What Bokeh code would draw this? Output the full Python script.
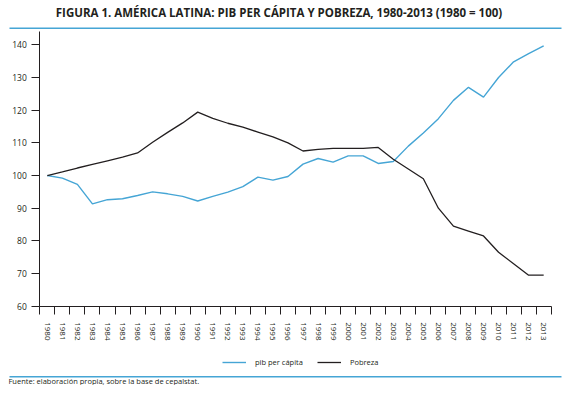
from bokeh.plotting import figure
from bokeh.models import (Range1d, FixedTicker, Label, BoxAnnotation, Legend, LegendItem)
from bokeh.embed import file_html
from bokeh.resources import INLINE

years = list(range(1980, 2014))
pib_per_capita = [100, 99.2, 97.3, 91.3, 92.6, 92.9, 93.9, 95.0, 94.4, 93.6,
                  92.2, 93.6, 94.9, 96.6, 99.5, 98.6, 99.7, 103.5, 105.2, 104.1,
                  106.0, 106.0, 103.7, 104.3, 109.0, 113.0, 117.4, 123.0, 127.0, 124.0,
                  130.0, 134.8, 137.3, 139.7]
pobreza = [100, 101.1, 102.3, 103.4, 104.5, 105.6, 106.9, 110.2, 113.2, 116.1,
           119.4, 117.5, 116.0, 114.8, 113.3, 111.8, 110.0, 107.5, 108.0, 108.3,
           108.3, 108.3, 108.6, 105.0, 102.0, 99.0, 90.0, 84.5, 83.0, 81.5,
           76.5, 73.0, 69.5, 69.5]
y_ticks = [60, 70, 80, 90, 100, 110, 120, 130, 140]
y_min, y_max = 60, 144

title_text = "FIGURA 1. AMÉRICA LATINA: PIB PER CÁPITA Y POBREZA, 1980-2013 (1980 = 100)"
source_text = "Fuente: elaboración propia, sobre la base de cepalstat."

BLUE = "#45a5d5"
DARK = "#231f20"
FONT = "Open Sans"

x_lo, x_hi = years[0] - 0.5, years[-1] + 0.5

# The frame fills the whole canvas; the axes are pinned inside it so that the
# title, rules, legend and source note (drawn in screen units) are not clipped.
p = figure(width=563, height=385, output_backend="svg", toolbar_location=None,
           x_range=Range1d(x_lo - 2.613, x_hi + 0.818),
           y_range=Range1d(y_min - 24.27, y_min + 93.57),
           min_border=0, min_border_left=0, min_border_right=0,
           min_border_top=0, min_border_bottom=0)
p.outline_line_color = None
p.grid.visible = False
p.background_fill_color = "white"
p.border_fill_color = "white"

r1 = p.line(years, pib_per_capita, line_color=BLUE, line_width=1.4)
r2 = p.line(years, pobreza, line_color=DARK, line_width=1.3)

xa = p.xaxis[0]
xa.fixed_location = y_min
xa.bounds = (x_lo, x_hi)
xa.ticker = FixedTicker(ticks=years, minor_ticks=[y - 0.5 for y in years] + [x_hi])
xa.major_tick_out = 8
xa.major_tick_in = 0
xa.major_tick_line_color = None
xa.minor_tick_out = 8
xa.minor_tick_in = 0
xa.minor_tick_line_color = DARK
xa.major_label_orientation = "vertical"
xa.major_label_standoff = 8
xa.major_label_text_font = FONT
xa.major_label_text_font_size = "8px"
xa.major_label_text_color = DARK
xa.axis_line_color = DARK

ya = p.yaxis[0]
ya.fixed_location = x_lo
ya.bounds = (y_min, y_max)
ya.ticker = FixedTicker(ticks=y_ticks, minor_ticks=[])
ya.major_tick_out = 8
ya.major_tick_in = 0
ya.major_tick_line_color = DARK
ya.minor_tick_line_color = None
ya.major_label_standoff = 5
ya.major_label_text_font = FONT
ya.major_label_text_font_size = "8.5px"
ya.major_label_text_color = DARK
ya.axis_line_color = DARK

# title and blue rules (screen units: from the canvas bottom-left, y upward)
p.add_layout(Label(x=278.5, y=373, x_units="screen", y_units="screen", text=title_text,
                   text_align="center", text_baseline="middle", text_font=FONT,
                   text_font_style="bold", text_font_size="11.5px", text_color=DARK))
p.add_layout(BoxAnnotation(left=9, right=561, top=358, bottom=356.5,
                           left_units="screen", right_units="screen",
                           top_units="screen", bottom_units="screen",
                           fill_color=BLUE, fill_alpha=1, line_color=None))
p.add_layout(BoxAnnotation(left=9, right=561, top=9.5, bottom=8,
                           left_units="screen", right_units="screen",
                           top_units="screen", bottom_units="screen",
                           fill_color=BLUE, fill_alpha=1, line_color=None))
p.add_layout(Label(x=8, y=4.5, x_units="screen", y_units="screen", text=source_text,
                   text_align="left", text_baseline="middle", text_font=FONT,
                   text_font_size="7.5px", text_color=DARK))

legend = Legend(items=[LegendItem(label="pib per cápita", renderers=[r1]),
                       LegendItem(label="Pobreza", renderers=[r2])],
                orientation="horizontal", location=(222, 17),
                padding=0, margin=0, spacing=14, label_standoff=9,
                glyph_width=24, glyph_height=12, label_height=12,
                label_text_font=FONT, label_text_font_size="7.5px", label_text_color=DARK,
                border_line_color=None, background_fill_alpha=0)
p.add_layout(legend, "center")

open("out.html", "w").write(file_html(p, INLINE))
